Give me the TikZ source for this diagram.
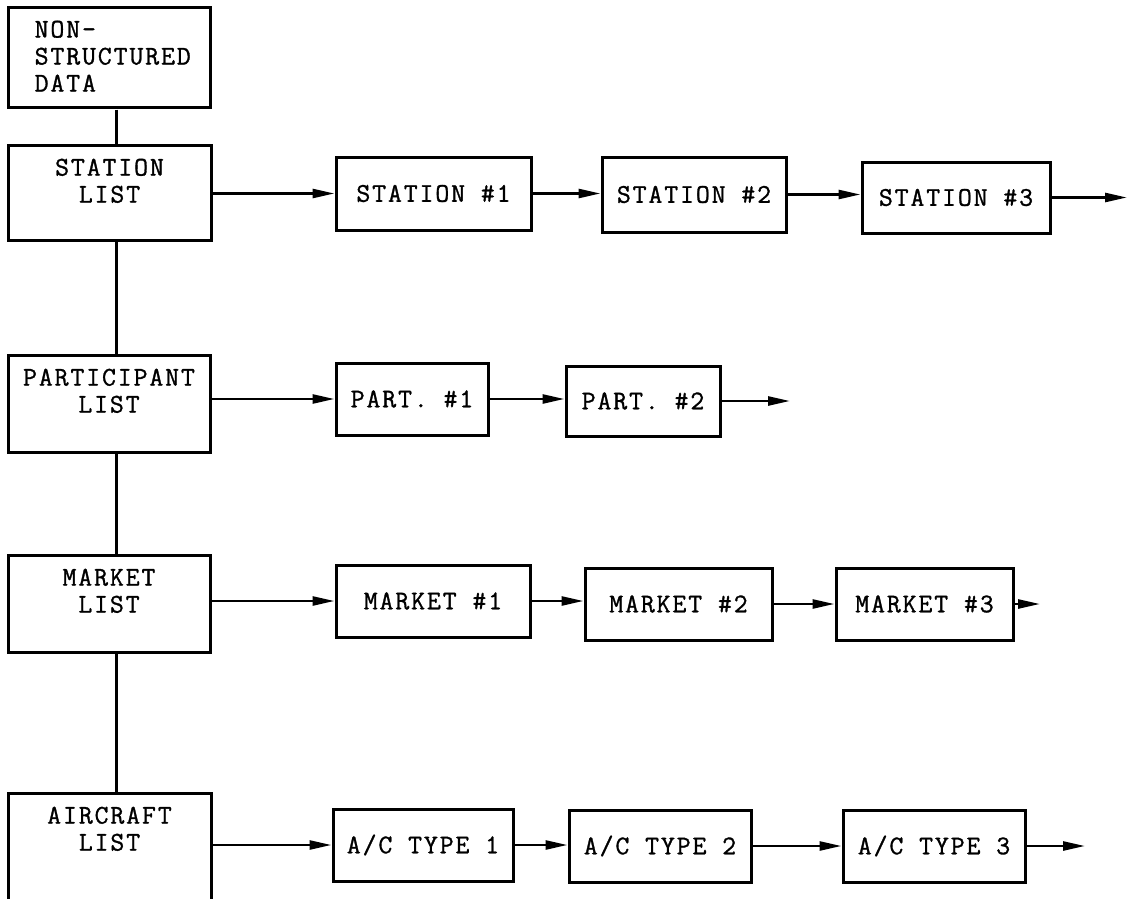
\documentclass[tikz,border=0pt]{standalone}
\usepackage{fontspec}
\setmonofont{Latin Modern Mono}[FakeBold=1.1, LetterSpace=7]
\usetikzlibrary{arrows.meta}
\tikzset{
  tt/.style={font=\ttfamily\fontsize{27}{27}\selectfont},
  box/.style={draw, line width=3pt, inner sep=0pt, tt},
  lbl/.style={tt, align=center, inner sep=0pt, anchor=north},
  conn/.style={line width=2.6pt, -{Triangle[length=22pt,width=9pt]}},
  trunk/.style={line width=3pt}
}
\begin{document}
\begin{tikzpicture}[x=1pt,y=-1pt]
\clip (0,0) rectangle (1128,899);
\fill[white] (0,0) rectangle (1128,899);
% left column
\node[box, minimum width=202pt, minimum height=100pt,
  label={[lbl, align=left, anchor=north west, xshift=28pt, yshift=-14pt]north west:NON-\\STRUCTURED\\DATA}]
  (nsd) at (109,58) {};
\node[box, minimum width=203pt, minimum height=95pt,
  label={[lbl, yshift=-15pt]north:STATION\\LIST}] (sl) at (109.5,192.5) {};
\node[box, minimum width=202pt, minimum height=97pt,
  label={[lbl, yshift=-15pt]north:PARTICIPANT\\LIST}] (pl) at (109,403.5) {};
\node[box, minimum width=202pt, minimum height=97pt,
  label={[lbl, yshift=-15pt]north:MARKET\\LIST}] (ml) at (109,603.5) {};
\node[box, minimum width=203pt, minimum height=130pt,
  label={[lbl, yshift=-15pt]north:AIRCRAFT\\LIST}] (al) at (109.5,858) {};
\coordinate (tx) at (116,0);
\draw[trunk] (nsd.south -| tx) -- (sl.north -| tx);
\draw[trunk] (sl.south -| tx) -- (pl.north -| tx);
\draw[trunk] (pl.south -| tx) -- (ml.north -| tx);
\draw[trunk] (ml.south -| tx) -- (al.north -| tx);
% row 1
\node[box, minimum width=195pt, minimum height=73pt] (st1) at (433.5,193.5) {STATION \#1};
\node[box, minimum width=184pt, minimum height=75pt] (st2) at (694,194.5) {STATION \#2};
\node[box, minimum width=188pt, minimum height=71pt] (st3) at (956,197.5) {STATION \#3};
\coordinate (e1) at (1127,197);
\draw[conn] (st1.west -| sl.east) -- (st1.west);
\draw[conn] (st1.east) -- (st1.east -| st2.west);
\draw[conn] (st2.east) -- (st2.east -| st3.west);
\draw[conn] (st3.east) -- (st3.east -| e1);
% row 2
\node[box, minimum width=152pt, minimum height=72pt] (p1) at (412,399) {PART. \#1};
\node[box, minimum width=154pt, minimum height=70pt] (p2) at (643,401) {PART. \#2};
\coordinate (e2) at (790,0);
\draw[conn] (p1.west -| pl.east) -- (p1.west);
\draw[conn] (p1.east) -- (p1.east -| p2.west);
\draw[conn] (p2.east) -- (p2.east -| e2);
% row 3
\node[box, minimum width=194pt, minimum height=72pt] (m1) at (433,601) {MARKET \#1};
\node[box, minimum width=187pt, minimum height=72pt] (m2) at (678.5,604) {MARKET \#2};
\node[box, minimum width=177pt, minimum height=72pt] (m3) at (924.5,604) {MARKET \#3};
\coordinate (e3) at (1040,0);
\draw[conn] (m1.west -| ml.east) -- (m1.west);
\draw[conn] (m1.east) -- (m1.east -| m2.west);
\draw[conn] (m2.east) -- (m2.east -| m3.west);
\draw[conn] (m3.east) -- (m3.east -| e3);
% row 4
\node[box, minimum width=180pt, minimum height=72pt] (a1) at (423,845) {A/C TYPE 1};
\node[box, minimum width=182pt, minimum height=72pt] (a2) at (660,846) {A/C TYPE 2};
\node[box, minimum width=182pt, minimum height=72pt] (a3) at (934,846) {A/C TYPE 3};
\coordinate (e4) at (1085,0);
\draw[conn] (a1.west -| al.east) -- (a1.west);
\draw[conn] (a1.east) -- (a1.east -| a2.west);
\draw[conn] (a2.east) -- (a2.east -| a3.west);
\draw[conn] (a3.east) -- (a3.east -| e4);
\end{tikzpicture}
\end{document}
